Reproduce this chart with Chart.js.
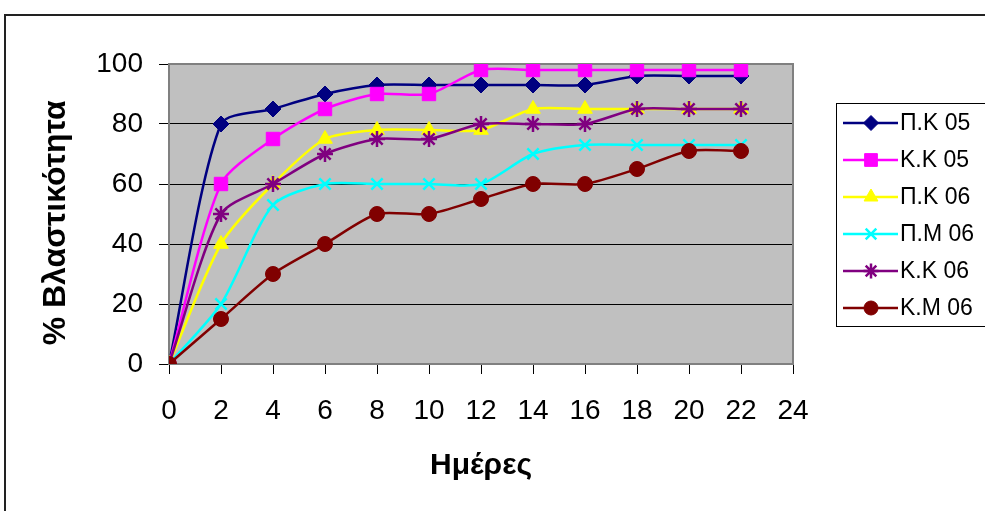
<!DOCTYPE html>
<html>
<head>
<meta charset="utf-8">
<script src="https://cdn.jsdelivr.net/npm/chart.js@4/dist/chart.umd.min.js"></script>
<style>
  html, body { margin: 0; padding: 0; background: #fff; }
  #wrap { width: 985px; height: 511px; }
</style>
</head>
<body>
<div id="wrap"><canvas id="myChart" width="985" height="511"></canvas></div>
<script>
// days on the x axis
const days = [0, 2, 4, 6, 8, 10, 12, 14, 16, 18, 20, 22];

// % germination per series
const pk05 = [0, 80, 85, 90, 93, 93, 93, 93, 93, 96, 96, 96];
const kk05 = [0, 60, 75, 85, 90, 90, 98, 98, 98, 98, 98, 98];
const pk06 = [0, 40, 60, 75, 78, 78, 78, 85, 85, 85, 85, 85];
const pm06 = [0, 20, 53, 60, 60, 60, 60, 70, 73, 73, 73, 73];
const kk06 = [0, 50, 60, 70, 75, 75, 80, 80, 80, 85, 85, 85];
const km06 = [0, 15, 30, 40, 50, 50, 55, 60, 60, 65, 71, 71];

const seriesNames = ['Π.Κ 05', 'Κ.Κ 05', 'Π.Κ 06', 'Π.Μ 06', 'Κ.Κ 06', 'Κ.Μ 06'];
const seriesValues = [pk05, kk05, pk06, pm06, kk06, km06];
const seriesColors = ['#000080', '#FF00FF', '#FFFF00', '#00FFFF', '#800080', '#800000'];
const seriesMarkers = ['rectRot', 'rect', 'triangle', 'crossRot', 'star', 'circle'];
const markerSizes = [8, 9.5, 8.5, 8, 8, 7.5];

const yTicks = [0, 20, 40, 60, 80, 100];
const xTicks = [0, 2, 4, 6, 8, 10, 12, 14, 16, 18, 20, 22, 24];

Chart.defaults.font.family = "'Liberation Sans', Arial, sans-serif";
Chart.defaults.color = '#000';

const datasets = seriesNames.map(function (name, i) {
  const lineMarker = seriesMarkers[i] === 'crossRot' || seriesMarkers[i] === 'star';
  return {
    label: name,
    data: days.map(function (d, j) { return { x: d, y: seriesValues[i][j] }; }),
    borderColor: seriesColors[i],
    backgroundColor: seriesColors[i],
    borderWidth: 2.5,
    pointStyle: seriesMarkers[i],
    pointRadius: markerSizes[i],
    pointBorderWidth: lineMarker ? 2.5 : 1,
    pointBackgroundColor: seriesColors[i],
    pointBorderColor: seriesColors[i],
    tension: 0.25,
    order: seriesNames.length - i
  };
});

const plotBox = {
  id: 'plotBox',
  beforeDraw(chart) {
    const { ctx, chartArea: a } = chart;
    ctx.save();
    ctx.fillStyle = '#fff';
    ctx.fillRect(0, 0, chart.width, chart.height);
    ctx.fillStyle = '#C0C0C0';
    ctx.fillRect(a.left, a.top, a.right - a.left, a.bottom - a.top);
    // outer chart frame
    ctx.strokeStyle = '#222';
    ctx.lineWidth = 2;
    ctx.strokeRect(5, 15, 1200, 800);
    ctx.restore();
  },
  beforeDatasetsDraw(chart) {
    const { ctx, chartArea: a } = chart;
    ctx.save();
    ctx.strokeStyle = '#808080';
    ctx.lineWidth = 2;
    ctx.strokeRect(a.left, a.top, a.right - a.left, a.bottom - a.top);
    ctx.restore();
  }
};

const sideLegend = {
  id: 'sideLegend',
  afterDraw(chart) {
    const ctx = chart.ctx;
    const left = 836, top = 103, w = 150, h = 223;
    ctx.save();
    ctx.fillStyle = '#fff';
    ctx.fillRect(left, top, w, h);
    ctx.strokeStyle = '#000';
    ctx.lineWidth = 1;
    ctx.strokeRect(left + 0.5, top + 0.5, w, h);
    ctx.font = "23px 'Liberation Sans', Arial, sans-serif";
    ctx.textBaseline = 'middle';
    ctx.textAlign = 'left';
    seriesNames.forEach(function (name, i) {
      const y = 123 + i * 37;
      ctx.strokeStyle = seriesColors[i];
      ctx.lineWidth = 2.5;
      ctx.beginPath();
      ctx.moveTo(843, y);
      ctx.lineTo(898, y);
      ctx.stroke();
      ctx.fillStyle = seriesColors[i];
      const isLine = seriesMarkers[i] === 'crossRot' || seriesMarkers[i] === 'star';
      ctx.lineWidth = isLine ? 2.5 : 1;
      Chart.helpers.drawPoint(ctx, {
        pointStyle: seriesMarkers[i],
        rotation: 0,
        radius: markerSizes[i] - 0.5,
        borderWidth: isLine ? 2.5 : 1
      }, 871, y);
      ctx.fillStyle = '#000';
      ctx.fillText(name, 900, y + 1);
    });
    ctx.restore();
  }
};

new Chart(document.getElementById('myChart').getContext('2d'), {
  type: 'line',
  data: { datasets: datasets },
  plugins: [plotBox, sideLegend],
  options: {
    responsive: false,
    animation: false,
    events: [],
    layout: { padding: { left: 0, top: 64, right: 192, bottom: 0 } },
    plugins: {
      legend: { display: false },
      tooltip: { enabled: false }
    },
    scales: {
      x: {
        type: 'linear',
        min: 0,
        max: 24,
        afterFit(scale) { scale.height = 147; },
        afterBuildTicks(scale) { scale.ticks = xTicks.map(function (v) { return { value: v }; }); },
        ticks: { font: { size: 28 }, padding: 20, maxRotation: 0, autoSkip: false },
        grid: { drawOnChartArea: false, drawTicks: true, tickLength: 10, color: '#000', lineWidth: 1 },
        border: { display: false },
        title: {
          display: true,
          text: 'Ημέρες',
          font: { size: 30, weight: 'bold' },
          padding: { top: 0, bottom: 27 }
        }
      },
      y: {
        min: 0,
        max: 100,
        afterFit(scale) { scale.width = 169; },
        afterBuildTicks(scale) { scale.ticks = yTicks.map(function (v) { return { value: v }; }); },
        ticks: { font: { size: 28 }, padding: 16 },
        grid: { drawTicks: true, tickLength: 10, color: '#000', lineWidth: 1 },
        border: { display: false },
        title: {
          display: true,
          text: '% Βλαστικότητα  ',
          font: { size: 32, weight: 'bold' },
          padding: { top: 37, bottom: 0 }
        }
      }
    }
  }
});
</script>
</body>
</html>
